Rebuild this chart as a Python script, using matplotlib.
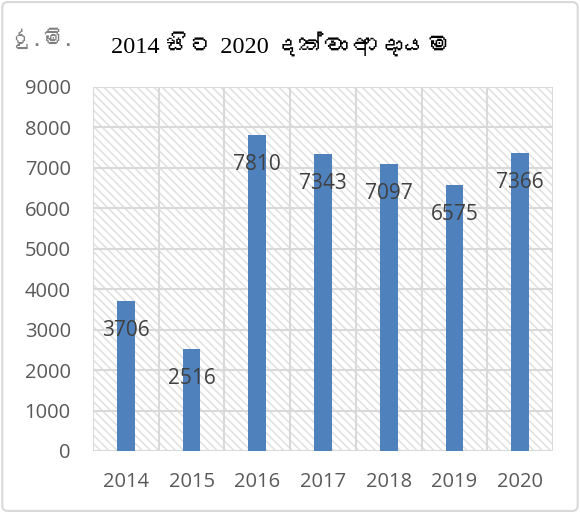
import matplotlib
matplotlib.use("Agg")
import matplotlib.pyplot as plt
from matplotlib import font_manager
from matplotlib.ft2font import FT2Font
from matplotlib.patches import Rectangle, FancyBboxPatch

years = ["2014", "2015", "2016", "2017", "2018", "2019", "2020"]
income = [3706, 2516, 7810, 7343, 7097, 6575, 7366]
yticks = [0, 1000, 2000, 3000, 4000, 5000, 6000, 7000, 8000, 9000]
title = "2014 සිට 2020 දක්වා ආදායම"
unit = "රු.මි."

# look for any installed font that can draw Sinhala
sinhala = []
for f in font_manager.fontManager.ttflist:
    try:
        if 0x0DC3 in FT2Font(f.fname).get_charmap():
            if f.name not in sinhala:
                sinhala.append(f.name)
    except Exception:
        pass

plt.rcParams["hatch.linewidth"] = 1.1
fig = plt.figure(figsize=(5.8, 5.13), dpi=100)
ax = fig.add_axes([93 / 580, 1 - 451 / 513, 460 / 580, 364 / 513])

x = list(range(len(years)))
ax.set_xlim(-0.5, len(years) - 0.5)
ax.set_ylim(0, 9000)

# hatched background
ax.add_patch(Rectangle((0, 0), 1, 1, transform=ax.transAxes, facecolor="white",
                       edgecolor="#e0e0e0", hatch="\\\\\\\\", linewidth=0, zorder=0))

bars = ax.bar(x, income, width=0.27, color="#4f81bd", zorder=3)
for xi, v in zip(x, income):
    ax.annotate(str(v), (xi, v), xytext=(0, -21), textcoords="offset points",
                ha="center", va="center", fontsize=15, color="#404040",
                family="Open Sans", zorder=4)

ax.set_yticks(yticks)
ax.set_xticks(x)
ax.set_xticklabels(years)
ax.yaxis.grid(True, color="#d9d9d9", linewidth=1.5, zorder=1)
for b in range(len(years) + 1):
    ax.axvline(b - 0.5, color="#d9d9d9", linewidth=1.5, zorder=1)
for s in ax.spines.values():
    s.set_visible(False)
ax.tick_params(length=0, labelsize=14.5, labelcolor="#595959")
ax.tick_params(axis="x", pad=15)
ax.tick_params(axis="y", pad=16)
for lab in ax.get_xticklabels() + ax.get_yticklabels():
    lab.set_family("Open Sans")

fams = sinhala + ["DejaVu Sans"]
fig.text(0.484, 0.912, title, ha="center", va="center", fontsize=17.5,
         family=["Liberation Serif"] + fams, color="black")
fig.text(0.02, 0.925, unit, ha="left", va="center", fontsize=15,
         family=fams, color="#7f7f7f")

fig.patches.append(FancyBboxPatch((0.004, 0.004), 0.992, 0.992, boxstyle="round,pad=0,rounding_size=0.01",
                                  transform=fig.transFigure, facecolor="none",
                                  edgecolor="#d9d9d9", linewidth=1.5))

fig.savefig("out.png", dpi=100)
